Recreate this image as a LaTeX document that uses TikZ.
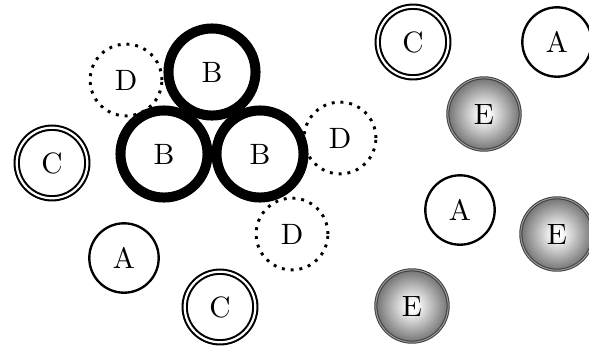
\documentclass[tikz,border=0pt]{standalone}
\usetikzlibrary{shadings}
\pgfdeclareradialshading{eshade}{\pgfpoint{0bp}{0bp}}{color(0bp)=(white); color(3bp)=(white); color(25bp)=(black!55); color(50bp)=(black!55)}
\tikzset{
  anode/.style={circle, draw, thick, minimum size=23.6pt, inner sep=0pt},
  bnode/.style={circle, draw, line width=3.4pt, minimum size=29.6pt, inner sep=0pt},
  cnode/.style={circle, draw, double, line width=0.7pt, double distance=0.75pt, minimum size=24pt, inner sep=0pt},
  dnode/.style={circle, draw, dotted, line width=1pt, minimum size=24.4pt, inner sep=0pt},
  enode/.style={circle, draw=black!75, double=black!40, line width=0.35pt, double distance=0.35pt, shading=eshade, minimum size=24.6pt, inner sep=0pt}
}
\begin{document}
\begin{tikzpicture}[x=0.34pt, y=-0.34pt]
\useasboundingbox (0,0) rectangle (589,347);
\node[dnode] (d1) at (126,80) {D};
\node[dnode] (d2) at (340,138) {D};
\node[dnode] (d3) at (292,234) {D};
\node[bnode] (b1) at (212,72) {B};
\node[bnode] (b2) at (164,154) {B};
\node[bnode] (b3) at (260,154) {B};
\node[cnode] (c1) at (52,163) {C};
\node[cnode] (c2) at (413,42) {C};
\node[cnode] (c3) at (220,307) {C};
\node[anode] (a1) at (557,42) {A};
\node[anode] (a2) at (460,210) {A};
\node[anode] (a3) at (124,258) {A};
\node[enode] (e1) at (484,114) {E};
\node[enode] (e2) at (557,234) {E};
\node[enode] (e3) at (412,306) {E};
\end{tikzpicture}
\end{document}
